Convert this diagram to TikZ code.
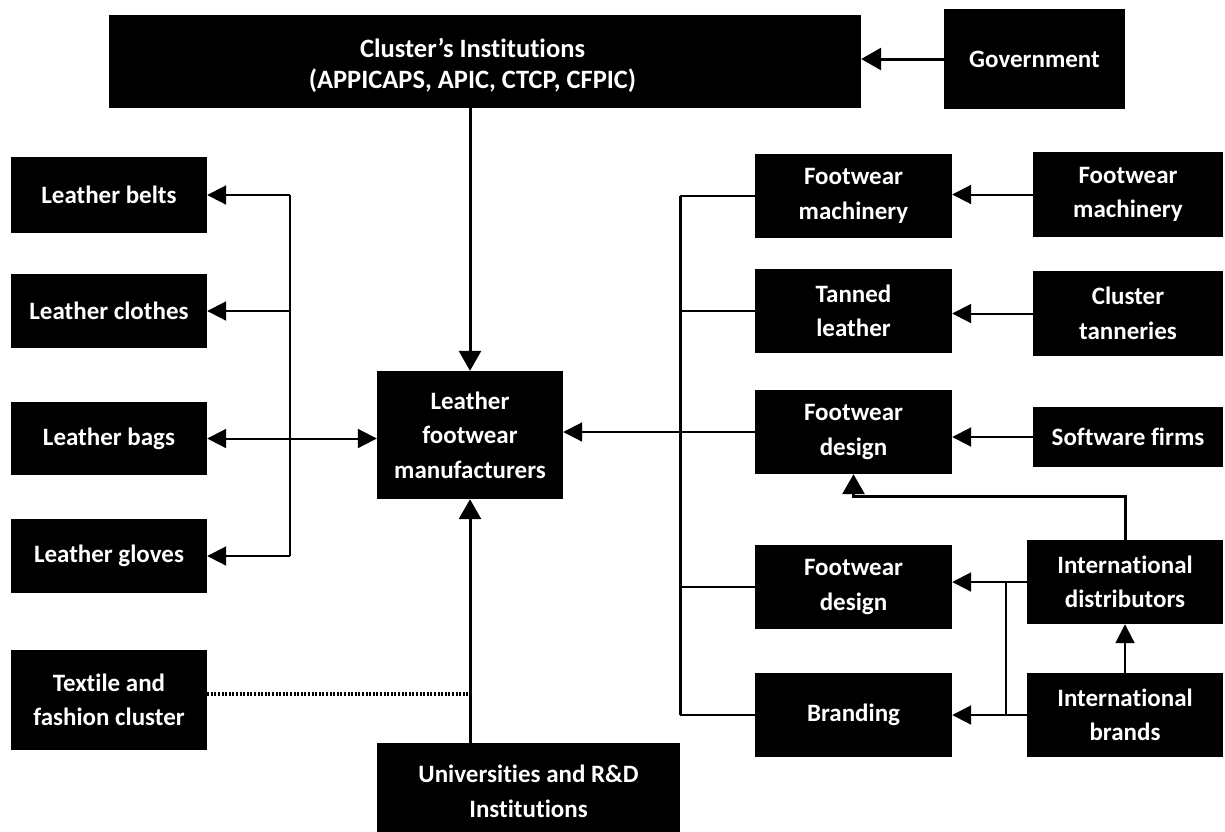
\documentclass[tikz,border=0pt]{standalone}
\usepackage{fontspec}
\setmainfont{Carlito}[Ligatures=NoCommon]
\usetikzlibrary{arrows.meta}
\tikzset{
  box/.style={fill=black, text=white, font=\fontsize{25}{34.5}\selectfont\bfseries, align=center, inner sep=0pt},
  bigtext/.style={text=white, font=\fontsize{26.5}{31}\selectfont\bfseries, align=center, inner sep=0pt},
  thickln/.style={line width=3pt},
  thinln/.style={line width=2pt},
  thickarr/.style={line width=3pt, -{Triangle[length=20pt,width=22pt]}},
  thinarr/.style={line width=2pt, -{Triangle[length=19pt,width=19pt]}},
  bothin/.style={line width=2pt, {Triangle[length=19pt,width=19pt]}-{Triangle[length=19pt,width=19pt]}},
  dotln/.style={line width=3.5pt, dash pattern=on 2pt off 1.6pt}
}
\begin{document}
\begin{tikzpicture}[x=1pt,y=-1pt]
\clip (0,0) rectangle (1225,831);
\fill[white] (0,0) rectangle (1225,831);

% top row
\node[box, minimum width=752pt, minimum height=93pt] (top) at (485,61.5) {};
\node[bigtext] (toptext) at (472.5,65) {Cluster’s Institutions\\(APPICAPS, APIC, CTCP, CFPIC)};
\node[box, minimum width=181pt, minimum height=100pt] (gov) at (1034.5,59) {Government};

% left column
\node[box, minimum width=196pt, minimum height=76pt] (belts) at (109,195) {Leather belts};
\node[box, minimum width=196pt, minimum height=74pt] (clothes) at (109,311) {Leather clothes};
\node[box, minimum width=196pt, minimum height=73pt] (bags) at (109,438.5) {Leather bags};
\node[box, minimum width=196pt, minimum height=74pt] (gloves) at (109,556) {Leather gloves};
\node[box, minimum width=196pt, minimum height=100pt] (textile) at (109,700) {Textile and\\fashion cluster};

% centre
\node[box, minimum width=186pt, minimum height=128pt] (lfm) at (470,435) {Leather\\footwear\\manufacturers};
\node[box, minimum width=303pt, minimum height=97pt] (univ) at (528.5,791.5) {Universities and R\&D\\Institutions};

% middle right column
\node[box, minimum width=197pt, minimum height=84pt] (fm1) at (853.5,196) {Footwear\\machinery};
\node[box, minimum width=197pt, minimum height=84pt] (tan) at (853.5,311) {Tanned\\leather};
\node[box, minimum width=197pt, minimum height=84pt] (fd1) at (853.5,432) {Footwear\\design};
\node[box, minimum width=197pt, minimum height=84pt] (fd2) at (853.5,587) {Footwear\\design};
\node[box, minimum width=197pt, minimum height=84pt] (brand) at (853.5,715) {Branding};

% far right column
\node[box, minimum width=190pt, minimum height=85pt] (fm2) at (1128,194.5) {Footwear\\machinery};
\node[box, minimum width=190pt, minimum height=85pt] (ctan) at (1128,313.5) {Cluster\\tanneries};
\node[box, minimum width=190pt, minimum height=60pt] (soft) at (1128,437) {Software firms};
\node[box, minimum width=196pt, minimum height=84pt] (dist) at (1125,582) {International\\distributors};
\node[box, minimum width=196pt, minimum height=84pt] (ibrand) at (1125,715) {International\\brands};

% top connectors
\draw[thickarr] (gov.west) -- (top.east |- gov.west);
\draw[thickarr] (top.south -| lfm.north) -- (lfm.north);
\draw[thickarr] (univ.north -| lfm.south) -- (lfm.south);

% left bracket
\coordinate (b1) at (290,195);
\coordinate (b4) at (290,556);
\draw[thinln] (b1) -- (b4);
\draw[thinarr] (b1) -- (belts.east |- b1);
\draw[thinarr] (290,311) coordinate (b2) -- (clothes.east |- b2);
\draw[thinarr] (b4) -- (gloves.east |- b4);
\draw[bothin] (lfm.west |- bags.east) -- (bags.east -| belts.east);

% dotted link
\draw[dotln] ([yshift=6pt]textile.east) -- ([yshift=6pt]textile.east -| lfm.south);

% right bus
\coordinate (r1) at (680,196);
\coordinate (r5) at (680,715);
\draw[thickln] (r1) -- (r5);
\draw[thinln] (r1) -- (fm1.west);
\draw[thinln] (680,311) -- (tan.west);
\draw[thinln] (680,587) -- (fd2.west);
\draw[thinln] (r5) -- (brand.west);
\draw[thinarr] (fd1.west) -- (lfm.east |- fd1.west);

% far right to middle
\draw[thinarr] (fm2.west) -- (fm1.east |- fm2.west);
\draw[thinarr] (ctan.west) -- (tan.east |- ctan.west);
\draw[thinarr] (soft.west) -- (fd1.east |- soft.west);
\draw[thinarr] (dist.west) -- (fd2.east |- dist.west);
\draw[thinarr] (ibrand.west) -- (brand.east |- ibrand.west);
\draw[thinln] (1006,582) -- (1006,715);
\draw[thickarr] (dist.north) -- ++(0,-43) -| (fd1.south);
\draw[thinarr] (ibrand.north) -- (dist.south);
\end{tikzpicture}
\end{document}
